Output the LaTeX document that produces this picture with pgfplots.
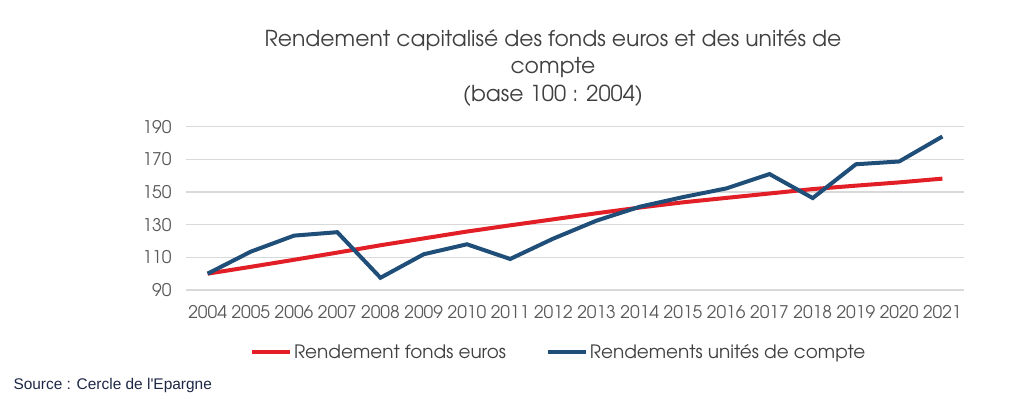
\documentclass[border=0pt]{standalone}
\usepackage{pgfplots}
\pgfplotsset{compat=1.18}
\usepackage{fontspec}
\setmainfont{TeX Gyre Adventor}
\newfontfamily\srcfont{Liberation Sans}
\definecolor{redline}{RGB}{226,30,38}
\definecolor{blueline}{RGB}{31,78,121}
\definecolor{gridgray}{RGB}{217,217,217}
\definecolor{titlegray}{RGB}{64,64,64}
\definecolor{tickgray}{RGB}{89,89,89}
\definecolor{srcblue}{RGB}{30,40,70}
\begin{document}
\begin{tikzpicture}[x=1bp,y=1bp]
\fill[white] (0,0) rectangle (1024,398);
\node[align=center, text=titlegray, font=\fontsize{22}{28}\selectfont] at (553,330)
  {Rendement capitalisé des fonds euros et des unités de\\compte\\(base 100 : 2004)};
\begin{axis}[
  at={(186bp,108bp)}, anchor=south west,
  scale only axis, width=778bp, height=163.3bp,
  xmin=2003.5, xmax=2021.5, ymin=90, ymax=190,
  xtick={2004,...,2021}, ytick={90,110,...,190},
  /pgf/number format/assume math mode=true,
  /pgf/number format/set thousands separator={},
  ymajorgrids, grid style={color=gridgray, line width=1.2bp},
  axis line style={draw=none}, tick style={draw=none},
  ticklabel style={text=tickgray, font=\fontsize{17.5}{19}\selectfont},
  xticklabel style={yshift=-12bp},
  yticklabel style={xshift=-11bp},
  legend columns=2,
  legend style={draw=none, fill=none, at={(0.479,-0.38)}, anchor=center,
    font=\fontsize{18.5}{20}\selectfont, text=titlegray,
    /tikz/every even column/.append style={column sep=38bp}},
  legend image code/.code={\draw[#1, line width=4bp] (0bp,0bp) -- (38bp,0bp);},
]
\addplot[redline, line width=4bp] coordinates {
(2004,100) (2005,104.2) (2006,108.5) (2007,112.9) (2008,117.4) (2009,121.6)
(2010,125.8) (2011,129.6) (2012,133.3) (2013,137.0) (2014,140.5) (2015,143.7)
(2016,146.4) (2017,149.1) (2018,151.8) (2019,153.9) (2020,155.9) (2021,158.2)};
\addlegendentry{Rendement fonds euros}
\addplot[blueline, line width=4bp] coordinates {
(2004,100) (2005,113.5) (2006,123.3) (2007,125.4) (2008,97.5) (2009,111.9)
(2010,118) (2011,109) (2012,121.5) (2013,132.5) (2014,141) (2015,146.9)
(2016,152.2) (2017,161) (2018,146.3) (2019,167) (2020,168.7) (2021,184)};
\addlegendentry{Rendements unités de compte}
\end{axis}
\node[anchor=base west, text=srcblue, font=\srcfont\fontsize{15.5}{17}\selectfont] at (10,9) {Source : Cercle de l'Epargne};
\end{tikzpicture}
\end{document}
